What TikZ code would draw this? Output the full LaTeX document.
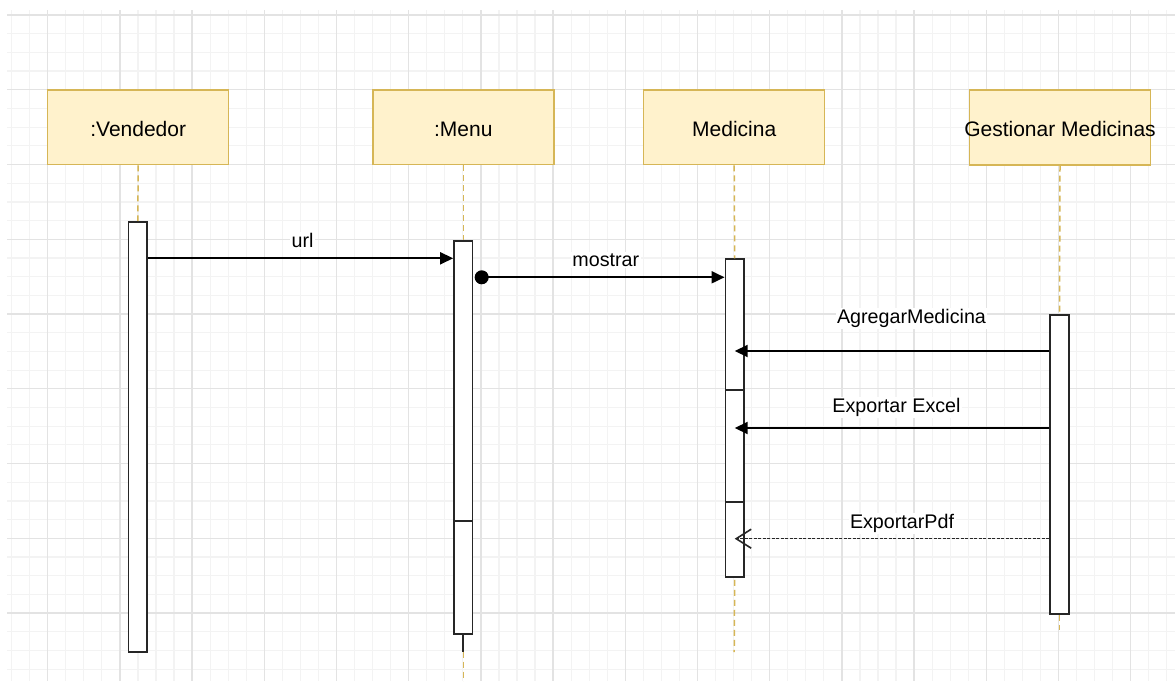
\documentclass[tikz,border=0pt]{standalone}
\usepackage{fontspec}
\setmainfont{Liberation Sans}
\usetikzlibrary{arrows.meta}
\definecolor{lifeyellow}{HTML}{FFF2CC}
\definecolor{lifegold}{HTML}{D6B656}
\definecolor{gridmajor}{HTML}{E3E3E3}
\definecolor{gridminor}{HTML}{F3F3F3}

\begin{document}
\begin{tikzpicture}[x=1pt,y=-1pt,
  head/.style={draw=lifegold, fill=lifeyellow, line width=1.5pt,
    minimum width=181pt, minimum height=74.7pt, inner sep=0pt,
    text height=18pt, text depth=0pt, font=\fontsize{21}{25}\selectfont},
  act/.style={draw=black!85, fill=white, line width=1.8pt,
    minimum width=18.5pt, inner sep=0pt, anchor=north},
  lifeline/.style={draw=lifegold, line width=1.5pt, dash pattern=on 6pt off 4pt},
  msg/.style={draw=black, line width=1.9pt, -{Triangle[length=13pt,width=12pt]}},
  reply/.style={draw=black!85, line width=1.3pt, dash pattern=on 3pt off 1.5pt,
    -{Straight Barb[length=15pt,width=19pt,line width=1.6pt]}},
  lbl/.style={fill=white, inner sep=1.5pt, anchor=base,
    font=\fontsize{19.7}{23}\selectfont},
  startdot/.style={circle, fill=black, inner sep=0pt, minimum size=14pt}
]
\useasboundingbox (0,0) rectangle (1175,682);
\fill[white] (0,0) rectangle (1175,682);

% background grid: quarter subdivisions and major lines
\begin{scope}
  \clip (7,11) rectangle (1175,680);
  \foreach \i in {-2,...,62}
    \draw[gridminor, line width=1.2pt] ({47.7+\i*18.05},0) -- ({47.7+\i*18.05},682);
  \foreach \i in {-1,...,36}
    \draw[gridminor, line width=1.2pt] (0,{15+\i*18.69}) -- (1175,{15+\i*18.69});
  \foreach \i in {0,...,15}
    \draw[gridmajor, line width=1.4pt] ({47.7+\i*72.2},0) -- ({47.7+\i*72.2},682);
  \foreach \i in {0,...,8}
    \draw[gridmajor, line width=1.4pt] (0,{15+\i*74.75}) -- (1175,{15+\i*74.75});
\end{scope}

% participants (the last label is wider than its box and overhangs it)
\node[head] (vend) at (138.2,127.3) {:Vendedor};
\node[head] (menu) at (463.3,127.3) {:Menu};
\node[head] (med)  at (734.2,127.3) {Medicina};
\node[head] (gest) at (1060,127.6) {\makebox[0pt][c]{Gestionar Medicinas}};

% activation bars
\node[act, minimum height=430pt]   (vendA)  at (137.8,221) {};
\node[act, minimum height=280pt]   (menuA1) at (463.3,240) {};
\node[act, minimum height=112.7pt] (menuA2) at (463.3,520) {};
\node[act, minimum height=131pt]   (medA1)  at (734.7,258.3) {};
\node[act, minimum height=112pt]   (medA2)  at (734.7,389.3) {};
\node[act, minimum height=74.7pt]  (medA3)  at (734.7,501.3) {};
\node[act, minimum height=299.3pt] (gestA)  at (1059.5,314) {};

% lifelines
\coordinate (menuEnd)  at (463.3,651.7);
\coordinate (menuTail) at (463.3,682);
\coordinate (medTail)  at (734.2,652);
\coordinate (gestTail) at (1059.5,630);
\draw[lifeline] (vend.south) -- (vendA.north);
\draw[lifeline] (menu.south) -- (menuA1.north);
\draw[black!85, line width=1.8pt] (menuA2.south) -- (menuEnd);
\draw[lifeline] (menuEnd) -- (menuTail);
\draw[lifeline] (med.south) -- (medA1.north);
\draw[lifeline] ([yshift=-2pt]medA3.south) -- (medTail);
\draw[lifeline] (gest.south) -- (gestA.north);
\draw[lifeline] (gestA.south) -- (gestTail);

% messages
\coordinate (yurl) at (0,258.3);
\coordinate (yagr) at (0,351);
\coordinate (yexc) at (0,428);
\coordinate (ypdf) at (0,538.7);
\node[startdot] (mdot) at (481.7,277.3) {};

\draw[msg] (vendA.east |- yurl) -- (menuA1.west |- yurl);
\draw[msg] (mdot.center) -- (medA1.west |- mdot);
\draw[msg] (gestA.west |- yagr) -- (medA1.center |- yagr);
\draw[msg] (gestA.west |- yexc) -- (medA2.center |- yexc);
\draw[reply] (gestA.west |- ypdf) -- (medA3.center |- ypdf);

% message labels
\node[lbl] (lurl) at (302.5,247.7) {url};
\node[lbl] (lmos) at (605.8,266.7) {mostrar};
\node[lbl] (lagr) at (911.5,323.3) {AgregarMedicina};
\node[lbl] (lexc) at (896.5,412.7) {Exportar Excel};
\node[lbl] (lpdf) at (902,528.3) {ExportarPdf};
\end{tikzpicture}
\end{document}
